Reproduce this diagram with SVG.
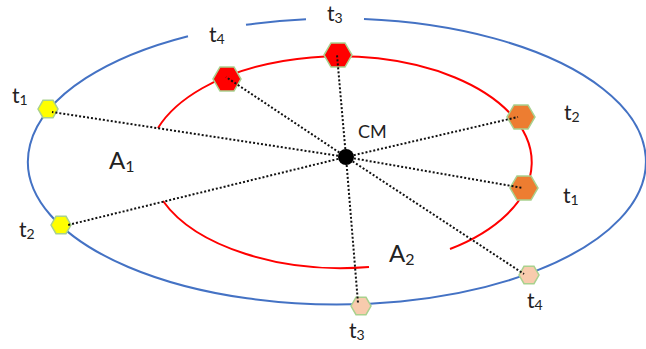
<svg xmlns="http://www.w3.org/2000/svg" width="646" height="349" viewBox="0 0 646 349">
<style>
.orbit-blue{fill:none;stroke:#4472c4;stroke-width:2}
.orbit-red{fill:none;stroke:#ff0000;stroke-width:2}
.hex{stroke:#a9d18e;stroke-width:1.5}
.link{stroke:#111;stroke-width:2;stroke-dasharray:2 2;fill:none}
text{font-family:Lato,"Open Sans","Liberation Sans",sans-serif;fill:#222}
.t{font-size:21px}
.sub{font-size:14px}
</style>
<rect width="646" height="349" fill="#fff"/>
<g id="orbits">
<path class="orbit-blue" d="M364 19.05 A309 143 0 1 1 188 36.2"/>
<path class="orbit-blue" d="M246 24.84 A309 143 0 0 1 306 19.2"/>
<path class="orbit-red" d="M158 128 A192 106 0 1 1 450 249"/>
<path class="orbit-red" d="M163 201 A192 106 0 0 0 369 267"/>
</g>
<g id="body1-t1"><polygon class="hex" fill="#ffff00" points="38,109 43,100.3 53,100.3 58,109 53,117.7 43,117.7"/></g>
<g id="body1-t2"><polygon class="hex" fill="#ffff00" points="51,225 56,216.3 66,216.3 71,225 66,233.7 56,233.7"/></g>
<g id="body1-t3"><polygon class="hex" fill="#f8cbad" points="351,306 356,297.3 366,297.3 371,306 366,314.7 356,314.7"/></g>
<g id="body1-t4"><polygon class="hex" fill="#f8cbad" points="519,275 524,266.3 534,266.3 539,275 534,283.7 524,283.7"/></g>
<g id="body2-t4"><polygon class="hex" fill="#ff0000" points="213,79 220,66.9 234,66.9 241,79 234,91.1 220,91.1"/></g>
<g id="body2-t3"><polygon class="hex" fill="#ff0000" points="324,55 331,42.9 345,42.9 352,55 345,67.1 331,67.1"/></g>
<g id="body2-t2"><polygon class="hex" fill="#ed7d31" points="507,117 514,104.9 528,104.9 535,117 528,129.1 514,129.1"/></g>
<g id="body2-t1"><polygon class="hex" fill="#ed7d31" points="510,188 517,175.9 531,175.9 538,188 531,200.1 517,200.1"/></g>
<g id="connectors">
<line class="link" x1="346" y1="157" x2="52" y2="112"/>
<line class="link" x1="346" y1="157" x2="68" y2="225"/>
<line class="link" x1="346" y1="157" x2="226" y2="77"/>
<line class="link" x1="346" y1="157" x2="337" y2="55"/>
<line class="link" x1="346" y1="157" x2="518" y2="117"/>
<line class="link" x1="346" y1="157" x2="523" y2="188"/>
<line class="link" x1="346" y1="157" x2="524" y2="274"/>
<line class="link" x1="346" y1="157" x2="358" y2="303"/>
</g>
<g id="cm"><circle cx="346" cy="157" r="8" fill="#000"/><text x="358" y="138" font-size="18">CM</text></g>
<g id="labels">
<text class="t" x="12" y="103">t<tspan class="sub" dy="2">1</tspan></text>
<text class="t" x="19" y="237">t<tspan class="sub" dy="2">2</tspan></text>
<text class="t" x="209" y="42">t<tspan class="sub" dy="2">4</tspan></text>
<text class="t" x="327" y="21">t<tspan class="sub" dy="2">3</tspan></text>
<text class="t" x="564" y="120">t<tspan class="sub" dy="2">2</tspan></text>
<text class="t" x="563" y="203">t<tspan class="sub" dy="2">1</tspan></text>
<text class="t" x="527" y="308">t<tspan class="sub" dy="2">4</tspan></text>
<text class="t" x="349" y="338">t<tspan class="sub" dy="2">3</tspan></text>
<text x="109" y="169" font-size="24">A<tspan font-size="16" dy="3">1</tspan></text>
<text x="389" y="262" font-size="24">A<tspan font-size="16" dy="3">2</tspan></text>
</g>
</svg>
